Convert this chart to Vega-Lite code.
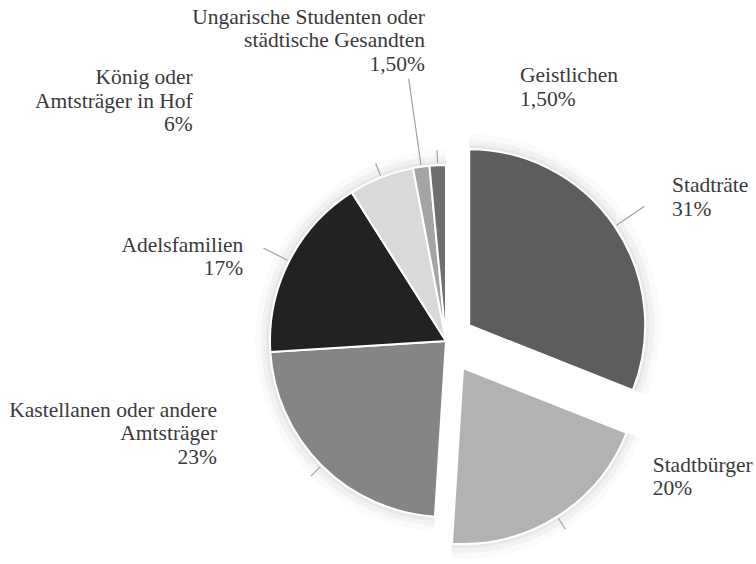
{
  "$schema": "https://vega.github.io/schema/vega-lite/v6.json",
  "width": 620,
  "height": 446,
  "autosize": "none",
  "padding": {"left": 136, "top": 118, "right": 0, "bottom": 0},
  "background": "white",
  "config": {"view": {"stroke": null}, "text": {"font": "Liberation Serif, Times New Roman, serif"}},
  "data": {
    "values": [
      {"idx": 1, "cat": "Stadträte", "share": 31, "label": "Stadträte\n31%"},
      {"idx": 2, "cat": "Stadtbürger", "share": 20, "label": "Stadtbürger\n20%"},
      {"idx": 3, "cat": "Kastellanen oder andere Amtsträger", "share": 23, "label": "Kastellanen oder andere\nAmtsträger\n23%"},
      {"idx": 4, "cat": "Adelsfamilien", "share": 17, "label": "Adelsfamilien\n17%"},
      {"idx": 5, "cat": "König oder Amtsträger in Hof", "share": 6, "label": "König oder\nAmtsträger in Hof\n6%"},
      {"idx": 6, "cat": "Ungarische Studenten oder städtische Gesandten", "share": 1.5, "label": "Ungarische Studenten oder\nstädtische  Gesandten\n1,50%"},
      {"idx": 7, "cat": "Geistlichen", "share": 1.5, "label": "Geistlichen\n1,50%"}
    ]
  },
  "encoding": {
    "theta": {"field": "share", "type": "quantitative", "stack": true},
    "order": {"field": "idx", "type": "quantitative"}
  },
  "layer": [
    {
      "mark": {"type": "arc", "outerRadius": 191, "color": "#000"},
      "encoding": {"opacity": {"condition": {"test": "datum.cat === 'Stadträte' || datum.cat === 'Stadtbürger'", "value": 0}, "value": 0.02}}
    },
    {
      "mark": {"type": "arc", "outerRadius": 185, "color": "#000"},
      "encoding": {"opacity": {"condition": {"test": "datum.cat === 'Stadträte' || datum.cat === 'Stadtbürger'", "value": 0}, "value": 0.03}}
    },
    {
      "mark": {"type": "arc", "outerRadius": 180, "color": "#000"},
      "encoding": {"opacity": {"condition": {"test": "datum.cat === 'Stadträte' || datum.cat === 'Stadtbürger'", "value": 0}, "value": 0.04}}
    },
    {
      "mark": {"type": "arc", "outerRadius": 191, "color": "#000", "xOffset": 23.2, "yOffset": -15.7},
      "encoding": {"opacity": {"condition": {"test": "datum.cat === 'Stadträte'", "value": 0.02}, "value": 0}}
    },
    {
      "mark": {"type": "arc", "outerRadius": 185, "color": "#000", "xOffset": 23.2, "yOffset": -15.7},
      "encoding": {"opacity": {"condition": {"test": "datum.cat === 'Stadträte'", "value": 0.03}, "value": 0}}
    },
    {
      "mark": {"type": "arc", "outerRadius": 180, "color": "#000", "xOffset": 23.2, "yOffset": -15.7},
      "encoding": {"opacity": {"condition": {"test": "datum.cat === 'Stadträte'", "value": 0.04}, "value": 0}}
    },
    {
      "mark": {"type": "arc", "outerRadius": 191, "color": "#000", "xOffset": 17, "yOffset": 27},
      "encoding": {"opacity": {"condition": {"test": "datum.cat === 'Stadtbürger'", "value": 0.02}, "value": 0}}
    },
    {
      "mark": {"type": "arc", "outerRadius": 185, "color": "#000", "xOffset": 17, "yOffset": 27},
      "encoding": {"opacity": {"condition": {"test": "datum.cat === 'Stadtbürger'", "value": 0.03}, "value": 0}}
    },
    {
      "mark": {"type": "arc", "outerRadius": 180, "color": "#000", "xOffset": 17, "yOffset": 27},
      "encoding": {"opacity": {"condition": {"test": "datum.cat === 'Stadtbürger'", "value": 0.04}, "value": 0}}
    },
    {
      "mark": {"type": "arc", "outerRadius": 176, "stroke": "white", "strokeWidth": 2},
      "encoding": {
        "color": {"field": "cat", "type": "nominal", "legend": null,
          "scale": {"domain": ["Stadträte", "Stadtbürger", "Kastellanen oder andere Amtsträger", "Adelsfamilien", "König oder Amtsträger in Hof", "Ungarische Studenten oder städtische Gesandten", "Geistlichen"],
                    "range": ["#5d5d5d", "#b2b2b2", "#858585", "#222222", "#d9d9d9", "#a5a5a5", "#6f6f6f"]}},
        "opacity": {"condition": {"test": "datum.cat === 'Stadträte' || datum.cat === 'Stadtbürger'", "value": 0}, "value": 1}
      }
    },
    {
      "mark": {"type": "arc", "outerRadius": 176, "stroke": "white", "strokeWidth": 2, "xOffset": 23.2, "yOffset": -15.7},
      "encoding": {
        "color": {"field": "cat", "type": "nominal", "legend": null},
        "opacity": {"condition": {"test": "datum.cat === 'Stadträte'", "value": 1}, "value": 0}
      }
    },
    {
      "mark": {"type": "arc", "outerRadius": 176, "stroke": "white", "strokeWidth": 2, "xOffset": 17, "yOffset": 27},
      "encoding": {
        "color": {"field": "cat", "type": "nominal", "legend": null},
        "opacity": {"condition": {"test": "datum.cat === 'Stadtbürger'", "value": 1}, "value": 0}
      }
    },
    {
      "mark": {"type": "arc", "innerRadius": 178, "outerRadius": 191, "padAngle": 3, "fillOpacity": 0, "stroke": "#a0a0a0", "strokeWidth": 1.2},
      "encoding": {
        "strokeOpacity": {"condition": {"test": "datum.cat === 'König oder Amtsträger in Hof' || datum.cat === 'Kastellanen oder andere Amtsträger' || datum.cat === 'Geistlichen'", "value": 1}, "value": 0}
      }
    },
    {
      "mark": {"type": "arc", "innerRadius": 178, "outerRadius": 205, "padAngle": 3, "fillOpacity": 0, "stroke": "#a0a0a0", "strokeWidth": 1.2},
      "encoding": {
        "strokeOpacity": {"condition": {"test": "datum.cat === 'Adelsfamilien'", "value": 1}, "value": 0}
      }
    },
    {
      "mark": {"type": "arc", "innerRadius": 178, "outerRadius": 265, "padAngle": 3, "fillOpacity": 0, "stroke": "#a0a0a0", "strokeWidth": 1.2},
      "encoding": {
        "strokeOpacity": {"condition": {"test": "datum.cat === 'Ungarische Studenten oder städtische Gesandten'", "value": 1}, "value": 0}
      }
    },
    {
      "mark": {"type": "arc", "innerRadius": 178, "outerRadius": 212, "padAngle": 3, "fillOpacity": 0, "stroke": "#a0a0a0", "strokeWidth": 1.2, "xOffset": 23.2, "yOffset": -15.7},
      "encoding": {
        "strokeOpacity": {"condition": {"test": "datum.cat === 'Stadträte'", "value": 1}, "value": 0}
      }
    },
    {
      "mark": {"type": "arc", "innerRadius": 178, "outerRadius": 191, "padAngle": 3, "fillOpacity": 0, "stroke": "#a0a0a0", "strokeWidth": 1.2, "xOffset": 17, "yOffset": 27},
      "encoding": {
        "strokeOpacity": {"condition": {"test": "datum.cat === 'Stadtbürger'", "value": 1}, "value": 0}
      }
    },
    {
      "mark": {"type": "text", "radius": 220, "dx": 44, "dy": -25, "align": "left", "baseline": "alphabetic", "lineBreak": "\n", "lineHeight": 23.5, "fontSize": 21.5, "fill": "#3a3a3a"},
      "encoding": {"text": {"condition": {"test": "datum.cat === 'Stadträte'", "field": "label"}, "value": ""}}
    },
    {
      "mark": {"type": "text", "radius": 220, "dx": 88.8, "dy": -55, "align": "left", "baseline": "alphabetic", "lineBreak": "\n", "lineHeight": 23.5, "fontSize": 21.5, "fill": "#3a3a3a"},
      "encoding": {"text": {"condition": {"test": "datum.cat === 'Stadtbürger'", "field": "label"}, "value": ""}}
    },
    {
      "mark": {"type": "text", "radius": 220, "dx": -73.4, "dy": -79.9, "align": "right", "baseline": "alphabetic", "lineBreak": "\n", "lineHeight": 23.5, "fontSize": 21.5, "fill": "#3a3a3a"},
      "encoding": {"text": {"condition": {"test": "datum.cat === 'Kastellanen oder andere Amtsträger'", "field": "label"}, "value": ""}}
    },
    {
      "mark": {"type": "text", "radius": 220, "dx": -6.7, "dy": 10.6, "align": "right", "baseline": "alphabetic", "lineBreak": "\n", "lineHeight": 23.5, "fontSize": 21.5, "fill": "#3a3a3a"},
      "encoding": {"text": {"condition": {"test": "datum.cat === 'Adelsfamilien'", "field": "label"}, "value": ""}}
    },
    {
      "mark": {"type": "text", "radius": 220, "dx": -172.3, "dy": -52.4, "align": "right", "baseline": "alphabetic", "lineBreak": "\n", "lineHeight": 23.5, "fontSize": 21.5, "fill": "#3a3a3a"},
      "encoding": {"text": {"condition": {"test": "datum.cat === 'König oder Amtsträger in Hof'", "field": "label"}, "value": ""}}
    },
    {
      "mark": {"type": "text", "radius": 220, "dx": 10, "dy": -99.2, "align": "right", "baseline": "alphabetic", "lineBreak": "\n", "lineHeight": 23.5, "fontSize": 21.5, "fill": "#3a3a3a"},
      "encoding": {"text": {"condition": {"test": "datum.cat === 'Ungarische Studenten oder städtische Gesandten'", "field": "label"}, "value": ""}}
    },
    {
      "mark": {"type": "text", "radius": 220, "dx": 84.4, "dy": -39.2, "align": "left", "baseline": "alphabetic", "lineBreak": "\n", "lineHeight": 23.5, "fontSize": 21.5, "fill": "#3a3a3a"},
      "encoding": {"text": {"condition": {"test": "datum.cat === 'Geistlichen'", "field": "label"}, "value": ""}}
    }
  ]
}
